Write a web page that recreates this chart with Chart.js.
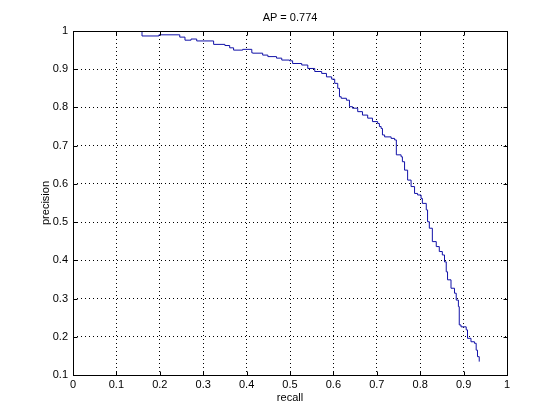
<!DOCTYPE html>
<html>
<head>
<meta charset="utf-8">
<script src="https://cdn.jsdelivr.net/npm/chart.js@4/dist/chart.umd.min.js"></script>
<style>
  html, body { margin: 0; padding: 0; background: #fff; }
  canvas { display: block; }
</style>
</head>
<body>
<canvas id="pr" width="560" height="420"></canvas>
<script>
// precision / recall points (step corners)
const recall = [
  0.159, 0.159, 0.198, 0.246, 0.258, 0.272, 0.285, 0.324, 0.350, 0.361,
  0.370, 0.391, 0.412, 0.414, 0.437, 0.449, 0.469, 0.481, 0.499, 0.506,
  0.527, 0.541, 0.557, 0.573, 0.584, 0.596, 0.603, 0.610, 0.614, 0.618,
  0.630, 0.637, 0.644, 0.656, 0.667, 0.679, 0.690, 0.702, 0.706, 0.710,
  0.713, 0.718, 0.733, 0.741, 0.745, 0.756, 0.759, 0.764, 0.771, 0.779,
  0.787, 0.794, 0.802, 0.805, 0.814, 0.817, 0.821, 0.828, 0.837, 0.844,
  0.851, 0.856, 0.860, 0.863, 0.871, 0.879, 0.883, 0.888, 0.890, 0.894,
  0.906, 0.909, 0.917, 0.925, 0.929, 0.932, 0.936
];
const precision = [
  1.000, 0.987, 0.990, 0.984, 0.976, 0.979, 0.974, 0.965, 0.962, 0.956,
  0.950, 0.952, 0.943, 0.942, 0.937, 0.933, 0.929, 0.924, 0.922, 0.915,
  0.911, 0.902, 0.894, 0.889, 0.880, 0.874, 0.863, 0.850, 0.828, 0.824,
  0.819, 0.802, 0.798, 0.789, 0.780, 0.772, 0.763, 0.758, 0.750, 0.745,
  0.728, 0.723, 0.719, 0.715, 0.676, 0.671, 0.658, 0.636, 0.610, 0.593,
  0.575, 0.571, 0.562, 0.549, 0.532, 0.501, 0.484, 0.449, 0.436, 0.423,
  0.414, 0.396, 0.370, 0.349, 0.327, 0.314, 0.296, 0.279, 0.231, 0.226,
  0.218, 0.196, 0.187, 0.183, 0.165, 0.148, 0.135
];
const xTickLabels = ['0', '0.1', '0.2', '0.3', '0.4', '0.5', '0.6', '0.7', '0.8', '0.9', '1'];
const yTickLabels = ['0.1', '0.2', '0.3', '0.4', '0.5', '0.6', '0.7', '0.8', '0.9', '1'];
const titleText = 'AP = 0.774';

const FONT = 'Liberation Sans, Arial, Helvetica, sans-serif';

// matlab style box with inward ticks on all four sides, title centred over the axes
const matlabFrame = {
  id: 'matlabFrame',
  afterDraw(chart) {
    const { ctx, chartArea: a, scales: { x, y } } = chart;
    const L = Math.round(a.left) + 0.5, R = Math.round(a.right) + 0.5;
    const T = Math.round(a.top) + 0.5, B = Math.round(a.bottom) + 0.5;
    ctx.save();
    ctx.strokeStyle = '#000';
    ctx.lineWidth = 1;
    ctx.setLineDash([]);
    ctx.strokeRect(L, T, R - L, B - T);
    ctx.beginPath();
    x.ticks.forEach(t => {
      const px = Math.round(x.getPixelForValue(t.value)) + 0.5;
      ctx.moveTo(px, B); ctx.lineTo(px, B - 4);
      ctx.moveTo(px, T); ctx.lineTo(px, T + 4);
    });
    y.ticks.forEach(t => {
      const py = Math.round(y.getPixelForValue(t.value)) + 0.5;
      ctx.moveTo(L, py); ctx.lineTo(L + 4, py);
      ctx.moveTo(R, py); ctx.lineTo(R - 4, py);
    });
    ctx.stroke();

    ctx.fillStyle = '#000';
    ctx.font = '11px ' + FONT;
    ctx.textAlign = 'center';
    ctx.textBaseline = 'middle';
    ctx.fillText(titleText, (a.left + a.right) / 2, a.top - 13);
    ctx.restore();
  }
};

const points = recall.map((r, i) => ({ x: r, y: precision[i] }));

new Chart(document.getElementById('pr'), {
  type: 'line',
  data: {
    datasets: [{
      data: points,
      borderColor: '#1212a8',
      borderWidth: 1,
      pointRadius: 0,
      stepped: 'before',
      fill: false
    }]
  },
  options: {
    responsive: false,
    animation: false,
    layout: { padding: { left: 0, right: 53, top: 31, bottom: 0 } },
    plugins: {
      legend: { display: false },
      tooltip: { enabled: false },
      title: { display: false }
    },
    scales: {
      x: {
        type: 'linear',
        min: 0,
        max: 1,
        afterFit: s => { s.height = 45; },
        ticks: {
          stepSize: 0.1,
          color: '#000',
          font: { family: FONT, size: 11 },
          padding: 3,
          maxRotation: 0,
          callback: (v, i) => xTickLabels[i]
        },
        grid: { color: '#000', drawTicks: false, lineWidth: 1 },
        border: { display: false, dash: [1, 3] },
        title: {
          display: true,
          text: 'recall',
          color: '#000',
          font: { family: FONT, size: 11 },
          padding: { top: 0, bottom: 15 }
        }
      },
      y: {
        type: 'linear',
        min: 0.1,
        max: 1,
        afterFit: s => { s.width = 73; },
        ticks: {
          stepSize: 0.1,
          color: '#000',
          font: { family: FONT, size: 11 },
          padding: 5,
          callback: (v, i) => yTickLabels[i]
        },
        grid: { color: '#000', drawTicks: false, lineWidth: 1 },
        border: { display: false, dash: [1, 3] },
        title: {
          display: true,
          text: 'precision',
          color: '#000',
          font: { family: FONT, size: 11 },
          padding: { top: 39, bottom: 0 }
        }
      }
    }
  },
  plugins: [matlabFrame]
});
</script>
</body>
</html>
